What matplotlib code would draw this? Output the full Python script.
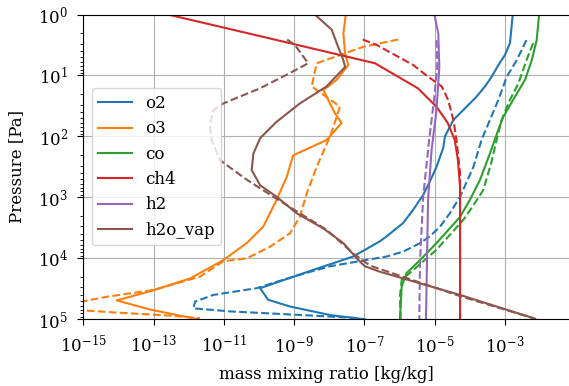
import numpy as np
import matplotlib
matplotlib.use("Agg")
import matplotlib.pyplot as plt
from matplotlib.ticker import NullLocator, LogLocator

# values, stored as log10 (mass mixing ratio, pressure)
species = ["o2", "o3", "co", "ch4", "h2", "h2o_vap"]

# --- solid profiles ---
o2_lq = [-2.78, -2.86, -3.00, -3.19, -3.38, -3.57, -3.83, -4.09, -4.47, -4.71, -4.76, -4.95, -5.14, -5.33, -5.61, -5.90, -6.37, -6.56, -7.32, -8.46, -9.97, -9.74, -9.12, -7.98, -6.98]
o2_lp = [0.0, 0.47, 0.66, 0.83, 1.02, 1.18, 1.36, 1.51, 1.73, 2.0, 2.19, 2.5, 2.74, 2.96, 3.20, 3.42, 3.64, 3.72, 3.97, 4.19, 4.49, 4.68, 4.79, 4.93, 5.0]

o3_lq = [-7.53, -7.60, -7.55, -7.46, -7.79, -8.17, -7.98, -7.84, -7.65, -8.08, -9.03, -9.21, -9.50, -9.88, -10.35, -11.02, -11.96, -13.10, -14.05, -13.10, -11.74]
o3_lp = [0.0, 0.31, 0.64, 0.83, 1.07, 1.24, 1.46, 1.62, 1.78, 2.06, 2.31, 2.66, 3.04, 3.48, 3.75, 4.03, 4.33, 4.54, 4.69, 4.84, 5.0]

co_lq = [-2.03, -2.10, -2.24, -2.43, -2.77, -3.05, -3.19, -3.43, -3.71, -4.00, -4.28, -4.95, -5.42, -5.80, -5.94, -5.99]
co_lp = [0.0, 0.42, 0.75, 1.07, 1.40, 1.68, 1.89, 2.28, 2.71, 3.04, 3.32, 3.75, 4.03, 4.24, 4.46, 5.0]

ch4_lq = [-12.59, -9.12, -6.70, -5.48, -4.94, -4.63, -4.43, -4.34, -4.28, -4.28]
ch4_lp = [0.0, 0.47, 0.80, 1.21, 1.52, 1.78, 2.06, 2.39, 2.83, 5.0]

h2_lq = [-5.01, -4.90, -4.87, -4.95, -5.09, -5.19, -5.25]
h2_lp = [0.0, 0.31, 0.86, 1.57, 2.22, 3.04, 5.0]

h2o_lq = [-8.41, -7.93, -7.79, -7.60, -7.55, -8.08, -8.84, -9.50, -9.97, -10.16, -10.21, -9.97, -9.50, -8.93, -8.17, -7.60, -7.22, -6.99, -6.56, -4.28, -2.20]
h2o_lp = [0.0, 0.25, 0.47, 0.75, 0.86, 1.18, 1.46, 1.76, 2.03, 2.28, 2.55, 2.80, 2.99, 3.26, 3.51, 3.75, 4.0, 4.13, 4.22, 4.60, 4.98]

# --- dashed profiles ---
o2_d_lq = [-2.39, -2.67, -2.95, -3.19, -3.43, -3.67, -3.90, -4.28, -4.57, -4.85, -5.14, -5.42, -5.90, -6.37, -7.98, -9.03, -10.07, -11.30, -11.82, -11.87, -10.83, -8.46, -7.21]
o2_d_lp = [0.42, 0.75, 1.02, 1.40, 1.73, 2.06, 2.50, 2.99, 3.26, 3.48, 3.64, 3.75, 3.89, 3.97, 4.13, 4.30, 4.49, 4.60, 4.71, 4.82, 4.87, 4.94, 4.98]

o3_d_lq = [-6.04, -7.03, -8.36, -8.50, -7.70, -7.79, -7.98, -8.36, -8.64, -8.84, -9.12, -9.69, -10.35, -11.02, -11.68, -13.01, -14.33, -15.5, -15.09, -14.05, -12.53, -11.68]
o3_d_lp = [0.41, 0.53, 0.80, 1.18, 1.51, 1.68, 2.0, 2.50, 2.93, 3.32, 3.59, 3.81, 4.0, 4.05, 4.30, 4.52, 4.63, 4.76, 4.85, 4.89, 4.94, 4.98]

co_d_lq = [-2.20, -2.39, -2.62, -2.86, -3.10, -3.24, -3.40, -3.62, -3.90, -4.19, -4.95, -5.71, -5.94, -5.99, -5.97]
co_d_lp = [0.47, 0.75, 1.13, 1.40, 1.73, 2.06, 2.45, 2.88, 3.13, 3.37, 3.86, 4.24, 4.35, 4.63, 5.0]

ch4_d_lq = [-7.05, -6.65, -5.61, -5.19, -4.80, -4.62, -4.47, -4.38, -4.28, -4.28]
ch4_d_lp = [0.41, 0.50, 0.83, 1.02, 1.18, 1.40, 1.73, 2.06, 2.60, 5.0]

h2_d_lq = [-4.95, -4.93, -5.02, -5.16, -5.33, -5.42, -5.44]
h2_d_lp = [0.42, 0.86, 1.40, 2.06, 2.99, 4.07, 5.0]

h2o_d_lq = [-9.20, -8.98, -8.60, -9.12, -9.97, -11.02, -11.30, -11.40, -11.35, -11.11, -10.35, -9.59, -8.84, -8.08, -7.32, -6.84, -4.28, -2.09]
h2o_d_lp = [0.41, 0.50, 0.80, 0.96, 1.21, 1.46, 1.57, 1.81, 2.06, 2.39, 2.71, 2.99, 3.26, 3.53, 3.92, 4.12, 4.62, 5.0]

solid = [(o2_lq, o2_lp), (o3_lq, o3_lp), (co_lq, co_lp), (ch4_lq, ch4_lp), (h2_lq, h2_lp), (h2o_lq, h2o_lp)]
dashed = [(o2_d_lq, o2_d_lp), (o3_d_lq, o3_d_lp), (co_d_lq, co_d_lp), (ch4_d_lq, ch4_d_lp), (h2_d_lq, h2_d_lp), (h2o_d_lq, h2o_d_lp)]

xtick_exp = [-15, -13, -11, -9, -7, -5, -3]

plt.rcParams["font.family"] = "DejaVu Serif"
plt.rcParams["mathtext.fontset"] = "dejavuserif"
plt.rcParams["font.size"] = 12

fig = plt.figure(figsize=(5.69, 3.86), dpi=100)
ax = fig.add_axes([0.1464, 0.1728, 0.8536, 0.7896])

for i, (name, (lq, lp), (dq, dp)) in enumerate(zip(species, solid, dashed)):
    c = f"C{i}"
    ax.plot(np.power(10.0, lq), np.power(10.0, lp), color=c, label=name)
    ax.plot(np.power(10.0, dq), np.power(10.0, dp), color=c, linestyle="--")

ax.set_xscale("log")
ax.set_yscale("log")
ax.set_xlim(1e-15, 10 ** -1.18)
ax.set_ylim(1e5, 1e0)
ax.set_xticks([10.0 ** e for e in xtick_exp])
ax.xaxis.set_minor_locator(NullLocator())
ax.yaxis.set_major_locator(LogLocator(base=10, numticks=10))
ax.tick_params(which="major", length=4, pad=7)
ax.grid(True, which="major")
ax.spines["right"].set_visible(False)

ax.set_xlabel("mass mixing ratio [kg/kg]", labelpad=7)
ax.set_ylabel("Pressure [Pa]", labelpad=9)
ax.legend(loc="center left")

fig.savefig("out.png", dpi=100)
